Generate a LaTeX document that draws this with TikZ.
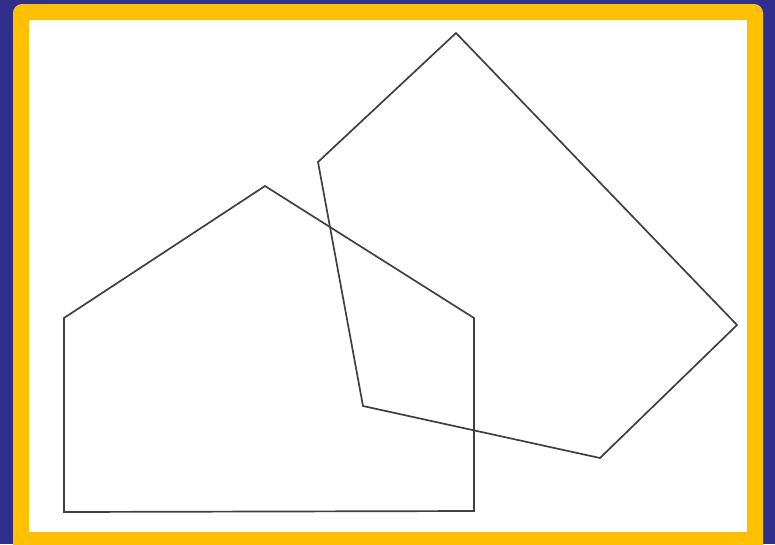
\documentclass[tikz,border=0pt]{standalone}
\definecolor{backblue}{RGB}{46,48,140}
\definecolor{frameyellow}{RGB}{255,192,0}
\begin{document}
\begin{tikzpicture}[x=1pt, y=-1pt, every path/.style={line join=miter}]
        \fill[backblue] (0,0) rectangle (775,544);
        \useasboundingbox (0,0) rectangle (775,544);
        \fill[frameyellow, rounded corners=9pt] (13,4) rectangle (763,560);
        \fill[white] (29,20) rectangle (747,532);
        % house
        \coordinate (h1) at (64,318);
        \coordinate (h2) at (265,186);
        \coordinate (h3) at (474,318);
        \coordinate (h4) at (474,511);
        \coordinate (h5) at (64,512);
        % tilted pentagon
        \coordinate (p1) at (456,33);
        \coordinate (p2) at (737,325);
        \coordinate (p3) at (600,458);
        \coordinate (p4) at (363,406);
        \coordinate (p5) at (318,162);
        \draw[black!75, line width=1.7pt] (h1)--(h2)--(h3)--(h4)--(h5)--cycle;
        \draw[black!75, line width=1.7pt] (p1)--(p2)--(p3)--(p4)--(p5)--cycle;
    \end{tikzpicture}
\end{document}
